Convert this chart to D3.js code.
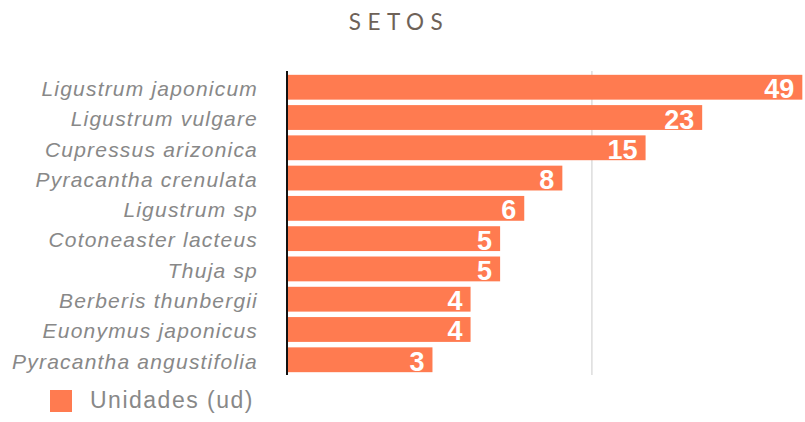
<!DOCTYPE html>
<html><head><meta charset="utf-8">
<script src="https://cdn.jsdelivr.net/npm/d3@7/dist/d3.min.js"></script>
<style>body{margin:0;background:#fff}</style>
</head><body>
<svg id="c" width="805" height="422"></svg>
<script>
const categories = ["Ligustrum japonicum","Ligustrum vulgare","Cupressus arizonica","Pyracantha crenulata","Ligustrum sp","Cotoneaster lacteus","Thuja sp","Berberis thunbergii","Euonymus japonicus","Pyracantha angustifolia"];
const values = [49,23,15,8,6,5,5,4,4,3];
const gridTicks = [10];
const seriesName = "Unidades (ud)";
const title = "SETOS";

const svg = d3.select("#c");
const color = "#FF7B50";
const x = d3.scaleLog().domain([1,50]).range([287,805]);
const y = d3.scaleBand().domain(categories).range([73,374]).paddingInner(0.18).paddingOuter(0.06);

svg.append("text").attr("x",399).attr("y",30).attr("text-anchor","middle")
  .attr("font-family","Lato, 'Open Sans', sans-serif").attr("font-size",22.5)
  .attr("letter-spacing","6.5px").attr("fill","#6e6258").text(title);

svg.selectAll("line.grid").data(gridTicks).enter().append("line")
  .attr("x1",d=>x(d)).attr("x2",d=>x(d)).attr("y1",71).attr("y2",375)
  .attr("stroke","#dddddd").attr("stroke-width",1.5);

svg.selectAll("rect.bar").data(values).enter().append("rect")
  .attr("x",x(1)).attr("y",(d,i)=>y(categories[i]))
  .attr("width",d=>x(d)-x(1)).attr("height",y.bandwidth()).attr("fill",color);

svg.selectAll("text.val").data(values).enter().append("text")
  .attr("x",d=>x(d)-8).attr("y",(d,i)=>y(categories[i])+y.bandwidth()/2+11)
  .attr("text-anchor","end").attr("font-family","'Liberation Sans', Arial, sans-serif")
  .attr("font-weight","bold").attr("font-size",27).attr("fill","#fff").text(d=>d);

const ax = svg.append("g").attr("transform",`translate(${x(1)},0)`)
  .call(d3.axisLeft(y).tickSize(0).tickPadding(29));
ax.select(".domain").attr("stroke","#111").attr("stroke-width",2).attr("d","M0,71V375");
ax.selectAll("text").attr("font-family","'Liberation Sans', Arial, sans-serif")
  .attr("font-style","italic").attr("font-size",21).attr("letter-spacing","1.2px")
  .attr("dy","0.42em").attr("fill","#888");

svg.append("rect").attr("x",50).attr("y",390).attr("width",22).attr("height",22).attr("fill",color);
svg.append("text").attr("x",90).attr("y",408).attr("font-family","'Liberation Sans', Arial, sans-serif")
  .attr("font-size",23).attr("letter-spacing","1.5px").attr("fill","#888").text(seriesName);
</script>
</body></html>
